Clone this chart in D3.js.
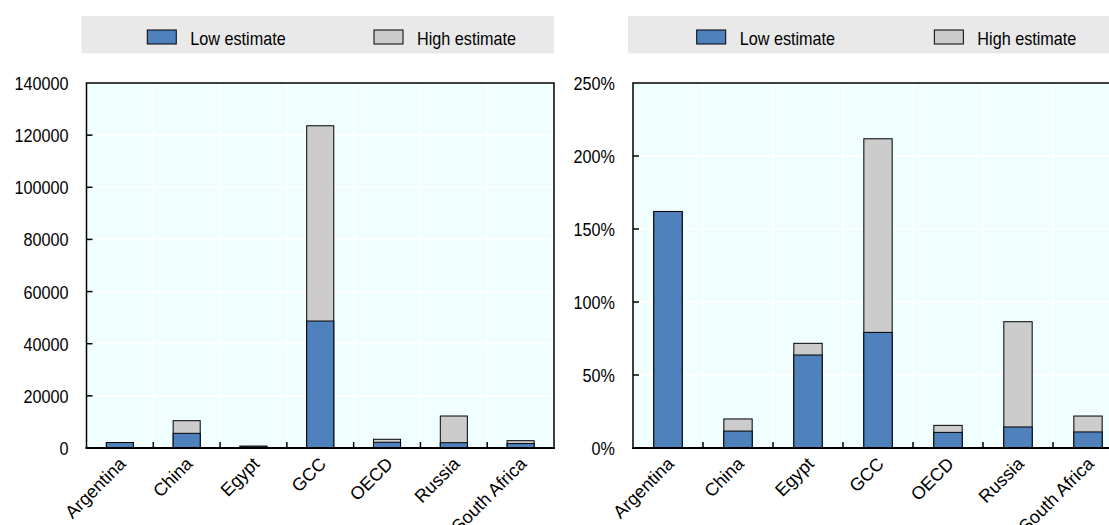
<!DOCTYPE html>
<html><head><meta charset="utf-8">
<script src="https://cdn.jsdelivr.net/npm/d3@7"></script>
<style>
body{margin:0;background:#fff}
svg{display:block}
text{font-family:"Liberation Sans",Arial,Helvetica,sans-serif;fill:#000}
</style>
</head><body>
<svg id="c" width="1109" height="525"></svg>
<script>
// ---- data ----
const categories = ["Argentina","China","Egypt","GCC","OECD","Russia","South Africa"];
const seriesNames = ["Low estimate","High estimate"];
const lowLeft  = [2100, 5630, 450, 48700, 2190, 2030, 1700];
const highLeft = [2100, 10470, 750, 123600, 3340, 12270, 2800];
const lowRight  = [162, 11.6, 63.7, 79.2, 10.7, 14.4, 11.0];
const highRight = [162, 19.9, 71.7, 211.8, 15.5, 86.5, 21.9];
const leftTicks  = [0, 20000, 40000, 60000, 80000, 100000, 120000, 140000];
const rightTicks = [0, 50, 100, 150, 200, 250];

const colors = {low:"#4f81bd", high:"#cccccc", plotBg:"#f0feff", legendBg:"#e9e9e9"};
const svg = d3.select("#c");

function panel(cfg){
  const g = svg.append("g");
  const yTop = 83, yBot = 448;
  const x = d3.scaleBand().domain(categories).range([cfg.x0, cfg.x1]).paddingInner(0.595).paddingOuter(0.2975);
  const y = d3.scaleLinear().domain([0, cfg.max]).range([yBot, yTop]);
  const w = cfg.x1 - cfg.x0;
  const step = x.step();

  // legend
  g.append("rect").attr("x", cfg.x0 - 5).attr("y", 16).attr("width", w + 5).attr("height", 37.5).attr("fill", colors.legendBg);
  const legendPos = [0.13, 0.615];
  const legendFill = [colors.low, colors.high];
  seriesNames.forEach((s, i) => {
    const lx = cfg.x0 + legendPos[i] * w;
    g.append("rect").attr("x", lx).attr("y", 30).attr("width", 29).attr("height", 14)
      .attr("fill", legendFill[i]).attr("stroke", "#000").attr("stroke-width", 1);
    g.append("text").attr("transform", `translate(${lx + 43},44.5) scale(0.9,1)`)
      .attr("font-size", 18).text(s);
  });

  // plot background
  g.append("rect").attr("x", cfg.x0).attr("y", yTop).attr("width", w).attr("height", yBot - yTop).attr("fill", colors.plotBg);

  // gridlines
  g.selectAll(".hg").data(cfg.ticks).join("line")
    .attr("x1", cfg.x0).attr("x2", cfg.x1).attr("y1", d => y(d)).attr("y2", d => y(d))
    .attr("stroke", "#fff").attr("stroke-width", 1.5);
  const bounds = d3.range(1, categories.length).map(i => cfg.x0 + i * step);
  g.selectAll(".vg").data(bounds).join("line")
    .attr("x1", d => d).attr("x2", d => d).attr("y1", yTop).attr("y2", yBot)
    .attr("stroke", "#fff").attr("stroke-width", 1.5);

  // bars
  g.selectAll(".hb").data(categories).join("rect")
    .attr("x", d => x(d)).attr("width", x.bandwidth())
    .attr("y", (d, i) => y(cfg.high[i])).attr("height", (d, i) => yBot - y(cfg.high[i]))
    .attr("fill", colors.high).attr("stroke", "#000").attr("stroke-width", 1);
  g.selectAll(".lb").data(categories).join("rect")
    .attr("x", d => x(d)).attr("width", x.bandwidth())
    .attr("y", (d, i) => y(cfg.low[i])).attr("height", (d, i) => yBot - y(cfg.low[i]))
    .attr("fill", colors.low).attr("stroke", "#000").attr("stroke-width", 1);

  // x ticks (category boundaries)
  g.selectAll(".xt").data(bounds).join("line")
    .attr("x1", d => d).attr("x2", d => d).attr("y1", yBot - 6).attr("y2", yBot)
    .attr("stroke", "#000").attr("stroke-width", 1.5);
  // y ticks
  g.selectAll(".yt").data(cfg.ticks.slice(1, -1)).join("line")
    .attr("x1", cfg.x0).attr("x2", cfg.x0 + 6).attr("y1", d => y(d)).attr("y2", d => y(d))
    .attr("stroke", "#000").attr("stroke-width", 1.5);

  // frame
  g.append("path").attr("d", `M${cfg.x0},${yBot}V${yTop}H${cfg.x1}V${yBot}`)
    .attr("fill", "none").attr("stroke", "#000").attr("stroke-width", 1.5);
  g.append("line").attr("x1", cfg.x0 - 1).attr("x2", cfg.x1 + 1).attr("y1", yBot).attr("y2", yBot)
    .attr("stroke", "#000").attr("stroke-width", 2);

  // y labels
  g.selectAll(".yl").data(cfg.ticks).join("text")
    .attr("transform", d => `translate(${cfg.x0 - 18},${y(d) + 7}) scale(0.9,1)`)
    .attr("text-anchor", "end").attr("font-size", 18).text(cfg.fmt);

  // x labels
  g.selectAll(".xl").data(categories).join("text")
    .attr("transform", d => `translate(${x(d) + x.bandwidth() / 2 + 7},465) rotate(-45)`)
    .attr("text-anchor", "end").attr("font-size", 18).text(d => d);
}

panel({x0: 86.5, x1: 554, max: 140000, ticks: leftTicks, fmt: d => String(d), low: lowLeft, high: highLeft});
panel({x0: 633, x1: 1123, max: 250, ticks: rightTicks, fmt: d => d + "%", low: lowRight, high: highRight});
</script>
</body></html>
